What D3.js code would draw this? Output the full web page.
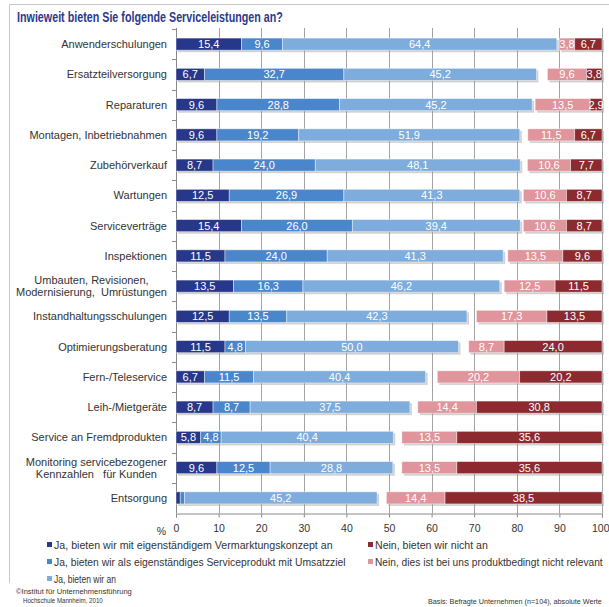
<!DOCTYPE html>
<html><head><meta charset="utf-8">
<script src="https://cdn.jsdelivr.net/npm/d3@7"></script>
<style>
html,body{margin:0;padding:0;background:#fff;}
svg{display:block;font-family:"Liberation Sans",Arial,sans-serif;}
</style></head>
<body>
<svg id="chart" width="609" height="607"></svg>
<script>
const categories = ["Anwenderschulungen","Ersatzteilversorgung","Reparaturen","Montagen, Inbetriebnahmen","Zubehörverkauf","Wartungen","Serviceverträge","Inspektionen","Umbauten, Revisionen,|Modernisierung,  Umrüstungen","Instandhaltungsschulungen","Optimierungsberatung","Fern-/Teleservice","Leih-/Mietgeräte","Service an Fremdprodukten","Monitoring servicebezogener|Kennzahlen   für Kunden","Entsorgung"];
const jaKonzept    = [15.4,6.7,9.6,9.6,8.7,12.5,15.4,11.5,13.5,12.5,11.5,6.7,8.7,5.8,9.6,1.0];
const jaProdukt    = [9.6,32.7,28.8,19.2,24.0,26.9,26.0,24.0,16.3,13.5,4.8,11.5,8.7,4.8,12.5,1.0];
const jaAn         = [64.4,45.2,45.2,51.9,48.1,41.3,39.4,41.3,46.2,42.3,50.0,40.4,37.5,40.4,28.8,45.2];
const neinRelevant = [3.8,9.6,13.5,11.5,10.6,10.6,10.6,13.5,12.5,17.3,8.7,20.2,14.4,13.5,13.5,14.4];
const neinNicht    = [6.7,3.8,2.9,6.7,7.7,8.7,8.7,9.6,11.5,13.5,24.0,20.2,30.8,35.6,35.6,38.5];
const xTicks = [0,10,20,30,40,50,60,70,80,90,100];
const legendLabels = ["Ja, bieten wir mit eigenständigem Vermarktungskonzept an","Ja, bieten wir als eigenständiges Serviceprodukt mit Umsatzziel","Ja, bieten wir an","Nein, bieten wir nicht an","Nein, dies ist bei uns produktbedingt nicht relevant"];

const colors = {konzept:"#27378a", produkt:"#4a86cc", an:"#7eacdd", relevant:"#e0949b", nicht:"#8c2a30"};
const svg = d3.select("#chart");
const fmt = v => d3.format(".1f")(v).replace(".", ",");

// text squeezed horizontally to a target width via transform
function squeezed(parent, tx, ty, size, w, txt, extra){
  const t = parent.append("text").attr("x",0).attr("y",0).attr("font-size",size).attr("fill","#333").text(txt);
  if(extra) extra(t);
  const nat = t.node().getComputedTextLength();
  const sx = Math.min(1, w/nat);
  t.attr("transform",`translate(${tx},${ty}) scale(${sx},1)`);
  return t;
}

// frame
svg.append("path").attr("d","M9.5,583 V4.5 H609").attr("fill","none").attr("stroke","#c8c8c8").attr("stroke-width",1);

// title
squeezed(svg, 17, 22, 14.5, 266, "Inwieweit bieten Sie folgende Serviceleistungen an?",
  t=>t.attr("fill","#2b3a8c").attr("font-weight","bold"));

const x = d3.scaleLinear().domain([0,100]).range([176,602]);
const xr = d3.scaleLinear().domain([0,104.5]).range([602,176]); // secondary reversed axis for "Nein"
const y = d3.scaleBand().domain(categories).range([29,513]).paddingInner(0.6).paddingOuter(0.3);
const yBand = d3.scaleBand().domain(categories).range([29,513]);

// gridlines
svg.append("g").selectAll("line").data(xTicks.slice(1)).join("line")
  .attr("x1",d=>Math.round(x(d))+0.5).attr("x2",d=>Math.round(x(d))+0.5)
  .attr("y1",28).attr("y2",513).attr("stroke","#a3a3a3").attr("stroke-width",1);

// left axis
svg.append("line").attr("x1",176.5).attr("x2",176.5).attr("y1",28).attr("y2",513).attr("stroke","#8a8a8a");
svg.append("g").selectAll("line").data(categories).join("line")
  .attr("x1",172).attr("x2",176).attr("y1",d=>Math.round(yBand(d))+0.5).attr("y2",d=>Math.round(yBand(d))+0.5)
  .attr("stroke","#8a8a8a");

// bottom axis
const xAxis = d3.axisBottom(x).tickValues(xTicks).tickSize(4).tickPadding(7).tickFormat(d3.format("d"));
const gx = svg.append("g").attr("transform","translate(0,513.5)").call(xAxis);
gx.select(".domain").attr("stroke","#8a8a8a");
gx.selectAll(".tick line").attr("stroke","#8a8a8a");
gx.selectAll(".tick text").attr("font-size",10.5).attr("fill","#333").attr("font-family","Liberation Sans, Arial, sans-serif");
gx.selectAll(".tick text").filter(d=>d===100).attr("text-anchor","end").attr("dx",7);
svg.append("text").attr("x",166).attr("y",535).attr("text-anchor","end").attr("font-size",10.5).attr("fill","#333").text("%");

// category labels
const labG = svg.append("g").attr("font-size",11).attr("fill","#333");
categories.forEach(c=>{
  const lines = c.split("|");
  const cy = y(c)+y.bandwidth()/2;
  const t = labG.append("text").attr("y",cy+4 - (lines.length-1)*6);
  lines.forEach((l,i)=>{
    t.append("tspan").attr("dy",i?12:0).attr("xml:space","preserve").text(l);
  });
  if(lines.length===1){ t.attr("text-anchor","end"); t.selectAll("tspan").attr("x",167); }
  else {
    let maxW = 0;
    t.selectAll("tspan").each(function(){ maxW = Math.max(maxW,this.getComputedTextLength()); });
    t.attr("text-anchor","middle"); t.selectAll("tspan").attr("x",167-maxW/2);
  }
});

// build segments
const segs = [];
categories.forEach((c,i)=>{
  let acc = 0;
  [[jaKonzept,"konzept"],[jaProdukt,"produkt"],[jaAn,"an"]].forEach(([arr,k])=>{
    const v = arr[i];
    segs.push({c, k, v, x0:x(acc), x1:x(acc+v)});
    acc += v;
  });
  const r2 = neinNicht[i], r1 = neinRelevant[i];
  segs.push({c, k:"relevant", v:r1, x0:xr(r1+r2), x1:xr(r2)});
  segs.push({c, k:"nicht", v:r2, x0:xr(r2), x1:xr(0)});
});

// shadows
const shG = svg.append("g");
categories.forEach((c,i)=>{
  const bx1 = x(jaKonzept[i]+jaProdukt[i]+jaAn[i]);
  shG.append("rect").attr("x",x(0)+2).attr("y",y(c)+2).attr("width",bx1-x(0)).attr("height",y.bandwidth())
    .attr("fill","#9a9a9a").attr("opacity",0.45);
  const rx0 = xr(neinNicht[i]+neinRelevant[i]);
  shG.append("rect").attr("x",rx0+2).attr("y",y(c)+2).attr("width",xr(0)-rx0).attr("height",y.bandwidth())
    .attr("fill","#9a9a9a").attr("opacity",0.45);
});

const barG = svg.append("g");
barG.selectAll("rect").data(segs.filter(s=>s.v>0)).join("rect")
  .attr("x",d=>d.x0).attr("y",d=>y(d.c)).attr("width",d=>d.x1-d.x0).attr("height",y.bandwidth())
  .attr("fill",d=>colors[d.k]).attr("stroke","rgba(255,255,255,0.55)").attr("stroke-width",0.8);

barG.selectAll("text").data(segs.filter(s=>s.v>0 && (s.x1-s.x0)>=8)).join("text")
  .attr("x",d=>(d.x0+d.x1)/2).attr("y",d=>y(d.c)+y.bandwidth()/2+4)
  .attr("text-anchor","middle").attr("font-size",11).attr("fill","#fff").text(d=>fmt(d.v));

// legend
const legItems = [
  {k:"konzept",x:47,y:545,t:legendLabels[0],w:279},
  {k:"produkt",x:47,y:562,t:legendLabels[1],w:292},
  {k:"an",x:47,y:579,t:legendLabels[2],w:62},
  {k:"nicht",x:368,y:545,t:legendLabels[3],w:113},
  {k:"relevant",x:368,y:562,t:legendLabels[4],w:228}
];
const lg = svg.append("g");
legItems.forEach(d=>{
  lg.append("rect").attr("x",d.x).attr("y",d.y-3).attr("width",5).attr("height",5).attr("fill",colors[d.k]);
  squeezed(lg, d.x+7, d.y+4, 11, d.w, d.t);
});

// footer
squeezed(svg, 16, 594, 8, 116, "©Institut für Unternehmensführung");
squeezed(svg, 23, 603, 8, 80, "Hochschule Mannheim, 2010");
squeezed(svg, 428, 604, 8, 174, "Basis: Befragte Unternehmen (n=104), absolute Werte");
</script>
</body></html>
